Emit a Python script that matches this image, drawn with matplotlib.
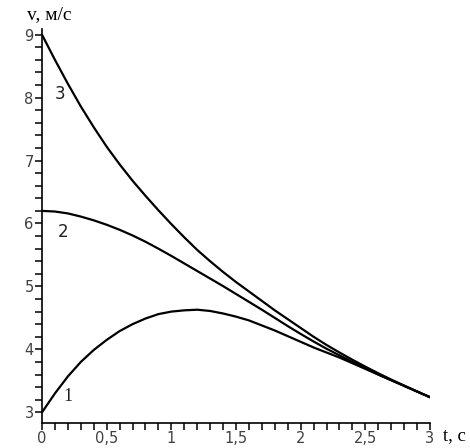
import matplotlib
matplotlib.use('Agg')
import matplotlib.pyplot as plt
from matplotlib.ticker import MultipleLocator

# time, s
t = [0.0, 0.1, 0.2, 0.3, 0.4, 0.5, 0.6, 0.7, 0.8, 0.9, 1.0,
     1.1, 1.2, 1.3, 1.4, 1.5, 1.6, 1.7, 1.8, 1.9, 2.0,
     2.1, 2.2, 2.3, 2.4, 2.5, 2.6, 2.7, 2.8, 2.9, 3.0]

# velocity, m/s
v1 = [3.00, 3.30, 3.57, 3.80, 3.99, 4.15, 4.29, 4.40, 4.49, 4.56, 4.60,
      4.62, 4.63, 4.61, 4.57, 4.52, 4.46, 4.38, 4.30, 4.21, 4.12,
      4.03, 3.95, 3.87, 3.78, 3.69, 3.60, 3.51, 3.42, 3.33, 3.24]
v2 = [6.20, 6.19, 6.16, 6.11, 6.05, 5.98, 5.90, 5.81, 5.71, 5.60, 5.485,
      5.365, 5.245, 5.125, 5.005, 4.88, 4.755, 4.63, 4.50, 4.37, 4.245,
      4.125, 4.01, 3.905, 3.80, 3.70, 3.60, 3.51, 3.42, 3.33, 3.24]
v3 = [9.00, 8.60, 8.22, 7.86, 7.53, 7.22, 6.94, 6.68, 6.44, 6.21, 5.99,
      5.78, 5.58, 5.40, 5.23, 5.07, 4.92, 4.77, 4.62, 4.48, 4.34,
      4.20, 4.07, 3.95, 3.835, 3.725, 3.62, 3.52, 3.425, 3.33, 3.24]

xticks = [0, 0.5, 1, 1.5, 2, 2.5, 3]
xtick_labels = ['0', '0,5', '1', '1,5', '2', '2,5', '3']
yticks = [3, 4, 5, 6, 7, 8, 9]

W, H = 470, 448
fig = plt.figure(figsize=(W / 100, H / 100), dpi=100)
ax = fig.add_axes([42 / W, 1 - 423 / H, (430 - 42) / W, (423 - 29) / H])

for v in (v1, v2, v3):
    ax.plot(t, v, color='black', lw=1.6, solid_capstyle='round')

ax.set_xlim(0, 3)
ax.set_ylim(2.83, 9.09)

ax.spines['top'].set_visible(False)
ax.spines['right'].set_visible(False)
ax.spines['left'].set_linewidth(1.2)
ax.spines['bottom'].set_linewidth(1.2)

ax.set_xticks(xticks, labels=xtick_labels)
ax.set_yticks(yticks, labels=[str(y) for y in yticks])
ax.xaxis.set_minor_locator(MultipleLocator(0.1))
ax.yaxis.set_minor_locator(MultipleLocator(0.2))
ax.tick_params(which='both', direction='out', length=5, width=1.1, color='black')
ax.tick_params(labelsize=10.5, labelcolor='#404040')
ax.tick_params(axis='y', pad=1)
ax.tick_params(axis='x', pad=1)

# curve numbers
ax.text(0.14, 8.05, '3', fontsize=12, color='#202020', ha='center', va='center')
ax.text(0.165, 5.87, '2', fontsize=12, color='#202020', ha='center', va='center')
ax.text(0.2, 3.25, '1', fontsize=13, family='Liberation Serif', color='#202020',
        ha='center', va='center')

# axis titles
fig.text(49 / W, 1 - 15 / H, 'v, м/с', family='Liberation Serif', fontsize=14,
         ha='center', va='center')
fig.text(454 / W, 1 - 436 / H, 't, c', family='Liberation Serif', fontsize=13.5,
         ha='center', va='center')

fig.savefig('out.png', dpi=100)
